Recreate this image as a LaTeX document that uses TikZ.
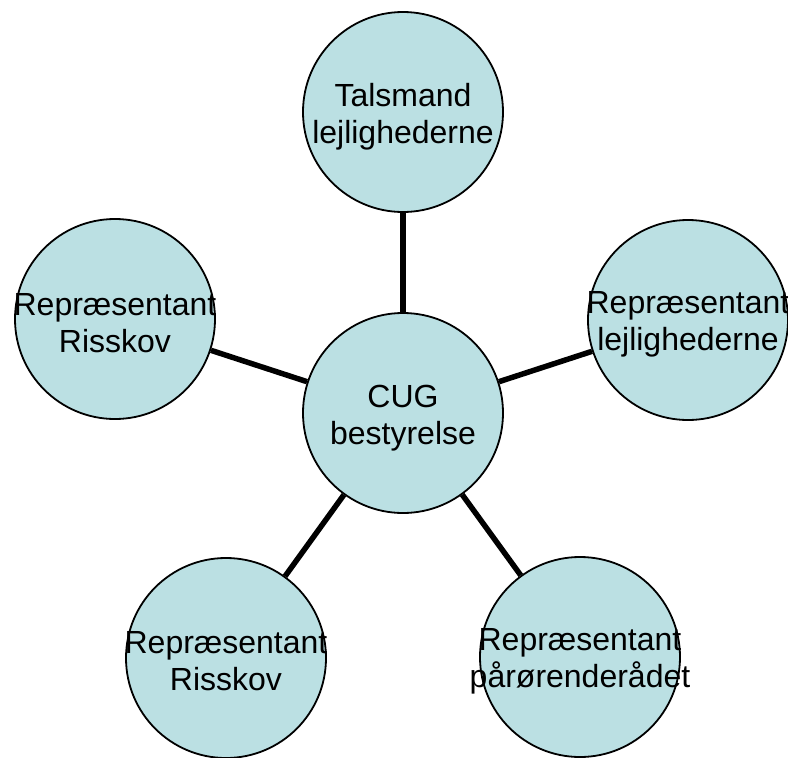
\documentclass[tikz,border=0pt]{standalone}
\usepackage{fontspec}
\setmainfont{Liberation Sans}
\definecolor{bubblefill}{RGB}{187,224,227}
\begin{document}
\begin{tikzpicture}[x=1pt,y=-1pt,
  bubble/.style={circle,draw=black,line width=1.8pt,fill=bubblefill,minimum size=200pt,inner sep=0pt},
  txt/.style={align=center,font=\fontsize{32}{37}\selectfont,inner sep=0pt},
  conn/.style={line width=5.5pt,black}]
\useasboundingbox (0,0) rectangle (788,758);
\node[bubble] (c)  at (403,413) {};
\node[bubble] (t)  at (403,112) {};
\node[bubble] (l)  at (115,319) {};
\node[bubble] (r)  at (688,320) {};
\node[bubble] (bl) at (226,658) {};
\node[bubble] (br) at (580,657) {};
\draw[conn] (c) -- (t);
\draw[conn] (c) -- (l);
\draw[conn] (c) -- (r);
\draw[conn] (c) -- (bl);
\draw[conn] (c) -- (br);
\node[txt] (ct)  at (403,418) {CUG\\bestyrelse};
\node[txt] (tt)  at (403,117) {Talsmand\\lejlighederne};
\node[txt] (lt)  at (115,323) {Repræsentant\\Risskov};
\node[txt] (rt)  at (688,324) {Repræsentant\\lejlighederne};
\node[txt] (blt) at (226,661) {Repræsentant\\Risskov};
\node[txt] (brt) at (580,661) {Repræsentant\\pårørenderådet};
\end{tikzpicture}
\end{document}
